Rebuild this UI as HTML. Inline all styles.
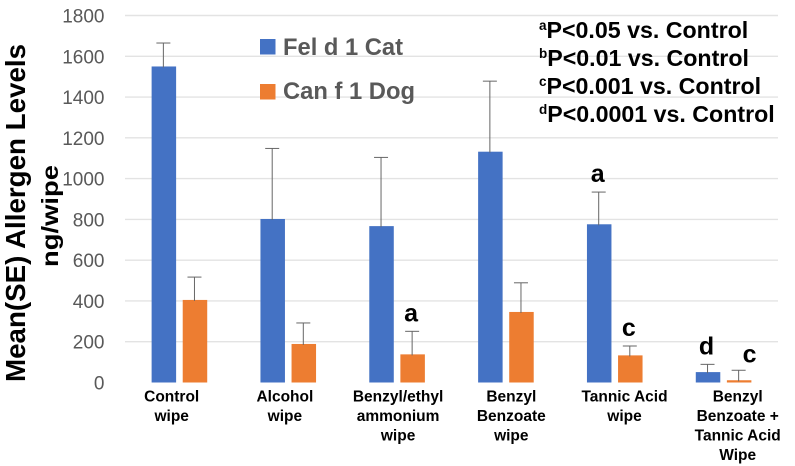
<!DOCTYPE html>
<html lang="en">
<head>
<meta charset="utf-8">
<title>Mean allergen levels by wipe type</title>
<style>
  html, body { margin: 0; padding: 0; background: #ffffff; }
  body { width: 795px; height: 466px; overflow: hidden; }
  svg { display: block; font-family: "Liberation Sans", sans-serif; filter: blur(0.35px); }
</style>
</head>
<body>
<svg id="chart" width="795" height="466" viewBox="0 0 795 466" xmlns="http://www.w3.org/2000/svg">
  <g id="grid"></g>
  <g id="ticks"></g>
  <g id="bars"></g>
  <g id="errs"></g>
  <g id="sigs"></g>
  <g id="cats"></g>

  <text transform="translate(25,382) rotate(-90)" font-size="28" font-weight="700" fill="#000" textLength="338" lengthAdjust="spacingAndGlyphs">Mean(SE) Allergen Levels</text>
  <text transform="translate(58,267) rotate(-90)" font-size="23.5" font-weight="700" fill="#000" textLength="102" lengthAdjust="spacingAndGlyphs">ng/wipe</text>

  <g>
    <g>
      <rect x="260" y="39" width="15.5" height="15.5" fill="#4472c4"></rect>
      <text x="283" y="55" font-size="24" font-weight="700" fill="#595959" textLength="120" lengthAdjust="spacingAndGlyphs">Fel d 1 Cat</text>
    </g>
    <g>
      <rect x="260" y="84" width="15.5" height="15.5" fill="#ed7d31"></rect>
      <text x="283" y="99" font-size="24" font-weight="700" fill="#595959" textLength="132" lengthAdjust="spacingAndGlyphs">Can f 1 Dog</text>
    </g>
  </g>

  <g font-size="23.2" font-weight="700" fill="#000">
    <text x="539" y="38"><tspan font-size="13.5" dy="-8">a</tspan><tspan dy="8">P&lt;0.05 vs. Control</tspan></text>
    <text x="539" y="66"><tspan font-size="13.5" dy="-8">b</tspan><tspan dy="8">P&lt;0.01 vs. Control</tspan></text>
    <text x="539" y="94"><tspan font-size="13.5" dy="-8">c</tspan><tspan dy="8">P&lt;0.001 vs. Control</tspan></text>
    <text x="539" y="122"><tspan font-size="13.5" dy="-8">d</tspan><tspan dy="8">P&lt;0.0001 vs. Control</tspan></text>
  </g>
</svg>

<script>
const categories = [
  ["Control", "wipe"],
  ["Alcohol", "wipe"],
  ["Benzyl/ethyl", "ammonium", "wipe"],
  ["Benzyl", "Benzoate", "wipe"],
  ["Tannic Acid", "wipe"],
  ["Benzyl", "Benzoate +", "Tannic Acid", "Wipe"]
];
const yTicks = [0, 200, 400, 600, 800, 1000, 1200, 1400, 1600, 1800];
const catValues = [1550, 802, 767, 1132, 776, 51];
const dogValues = [405, 189, 138, 346, 133, 11];
const catSE = [115, 346, 337, 346, 158, 38];
const dogSE = [112, 103, 113, 143, 46, 49];
const catLetters = ["", "", "", "", "a", "d"];
const dogLetters = ["", "", "a", "", "c", "c"];

const NS = "http://www.w3.org/2000/svg";
const plotLeft = 125, plotRight = 778, y0 = 382.5, yMax = 1800, yTop = 15.5;
const groupW = (plotRight - plotLeft) / categories.length;
const barW = 24.5, barGap = 6.6;

function yScale(v) { return y0 - (v / yMax) * (y0 - yTop); }
function groupCenter(i) { return plotLeft + groupW * (i + 0.5); }
function barLeft(i, s) { return groupCenter(i) - barW - barGap / 2 + s * (barW + barGap); }
function catLabelX(i) { return 171.7 + 113.2 * i; }

function make(tag, attrs, parent, text) {
  const el = document.createElementNS(NS, tag);
  for (const k in attrs) el.setAttribute(k, attrs[k]);
  if (text !== undefined) el.textContent = text;
  parent.appendChild(el);
  return el;
}

const grid = document.getElementById("grid");
const ticks = document.getElementById("ticks");
yTicks.forEach(function (t) {
  const y = yScale(t);
  if (t > 0) {
    const line = make("line", { x1: plotLeft, x2: plotRight, y1: y, y2: y, stroke: "#e3e3e3", "stroke-width": 1.4 }, grid);
    
    
  }
  const label = make("text", { x: 104.5, y: y + 7, "text-anchor": "end", "font-size": 19, fill: "#595959" }, ticks, String(t));
  
  
});

const bars = document.getElementById("bars");
const errs = document.getElementById("errs");
const sigs = document.getElementById("sigs");
const seriesValues = [catValues, dogValues];
const seriesSE = [catSE, dogSE];
const seriesLetters = [catLetters, dogLetters];
const seriesColors = ["#4472c4", "#ed7d31"];
const seriesKeys = ["cat", "dog"];

seriesValues.forEach(function (vals, s) {
  vals.forEach(function (v, i) {
    const x = barLeft(i, s);
    const y = yScale(v);
    const bar = make("rect", { x: x, y: y, width: barW, height: y0 - y, fill: seriesColors[s] }, bars);
    
    

    const cx = x + barW / 2 - 0.5;
    const topV = v + seriesSE[s][i];
    const yt = yScale(topV);
    const stem = make("line", { x1: cx, x2: cx, y1: y + 1, y2: yt, stroke: "#666", "stroke-width": 1 }, errs);
    
    
    const cap = make("line", { x1: cx - 7, x2: cx + 7, y1: yt, y2: yt, stroke: "#666", "stroke-width": 1 }, errs);
    
    

    const letter = seriesLetters[s][i];
    if (letter) {
      const isLastDog = (s === 1 && i === categories.length - 1);
      const lx = cx + (isLastDog ? 11 : -1);
      const ly = yt - (isLastDog ? 8 : 10);
      const mark = make("text", { x: lx, y: ly, "text-anchor": "middle", "font-size": 25, "font-weight": 700, fill: "#000" }, sigs, letter);
      
      
    }
  });
});

const cats = document.getElementById("cats");
categories.forEach(function (lines, i) {
  lines.forEach(function (ln, j) {
    const t = make("text", { x: catLabelX(i), y: 401.7 + j * 19.5, "text-anchor": "middle", "font-size": 15.5, "font-weight": 700, fill: "#000" }, cats, ln);
    
    
  });
});
</script>
</body>
</html>
